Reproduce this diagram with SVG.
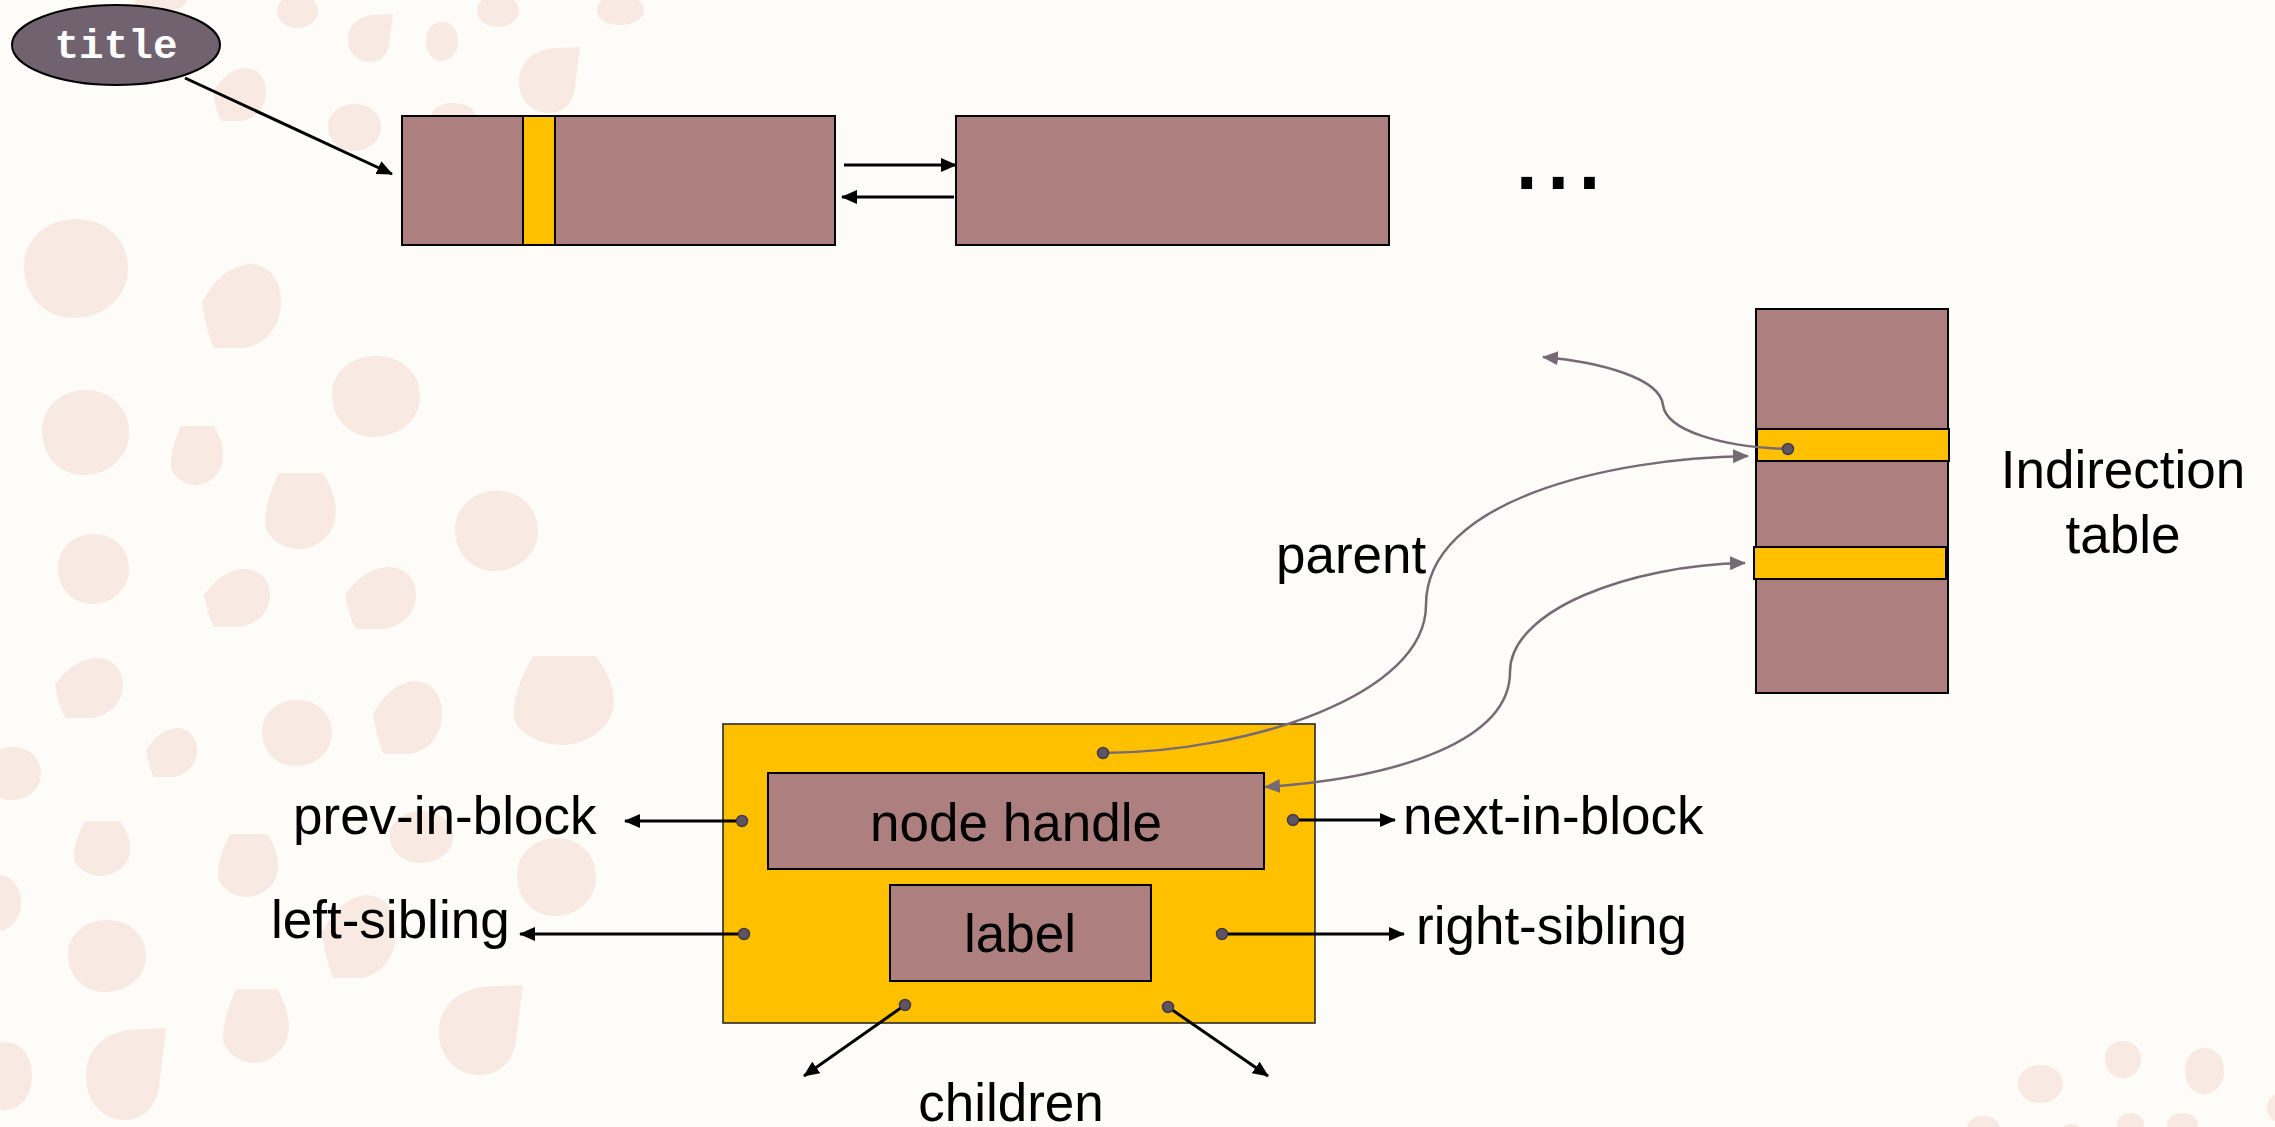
<svg xmlns="http://www.w3.org/2000/svg" xmlns:xlink="http://www.w3.org/1999/xlink" width="2275" height="1127" viewBox="0 0 2275 1127">
  <style>
    .bg { fill: #fdfcf8; }
    .blob { fill: #f8e9e2; }
    .cell { fill: #ad7f7f; stroke: #000; stroke-width: 2; }
    .slot { fill: #ffc000; stroke: #000; stroke-width: 2; }
    .box { fill: #ffc000; stroke: #2a2a2a; stroke-width: 1.6; }
    .dot { fill: #5e5462; stroke: #463c48; stroke-width: 1.5; }
    .lbl { font-family: "Liberation Sans", Arial, sans-serif; font-size: 53px; fill: #000; }
    .mid { text-anchor: middle; }
    .arrow { stroke: #000; stroke-width: 3; fill: none; marker-end: url(#ah); }
    .link { stroke: #766a75; stroke-width: 2.5; fill: none; }
  </style>
  <defs>
    <marker id="ah" viewBox="0 0 16 14" refX="15" refY="7" markerWidth="16" markerHeight="14" markerUnits="userSpaceOnUse" orient="auto">
      <path d="M0,0 L16,7 L0,14 Z" fill="#000"/>
    </marker>
    <marker id="gh" viewBox="0 0 16 14" refX="15" refY="7" markerWidth="16" markerHeight="14" markerUnits="userSpaceOnUse" orient="auto-start-reverse">
      <path d="M0,0 L16,7 L0,14 Z" fill="#766a75"/>
    </marker>
    <!-- background blob shapes, drawn in a 100x100 box -->
    <path id="bA" d="M50,0 C80,0 100,22 100,50 C100,80 75,100 48,100 C20,100 0,78 0,48 C0,20 22,0 50,0Z"/>
    <path id="bB" d="M100,0 L92,60 C88,88 70,100 48,100 C20,100 0,80 0,52 C0,22 25,5 55,2 Z"/>
    <path id="bC" d="M20,0 L80,0 C95,25 100,45 95,65 C88,88 65,100 48,100 C25,100 5,85 2,70 C0,50 8,25 20,0Z"/>
    <path id="bD" d="M0,45 C15,20 35,2 60,0 C85,0 100,20 100,45 C100,75 80,95 55,100 L15,100 C8,85 3,65 0,45Z"/>
  </defs>

  <rect class="bg" x="0" y="0" width="2275" height="1127"/>

  <!-- decorative background -->
  <g class="blob">
    <use xlink:href="#bA" transform="translate(135,-10) scale(0.51,0.22)"/>
    <use xlink:href="#bA" transform="translate(277,-5) scale(0.41,0.33)"/>
    <use xlink:href="#bB" transform="translate(348,14) scale(0.45,0.48)"/>
    <use xlink:href="#bA" transform="translate(426,22) scale(0.32,0.39)"/>
    <use xlink:href="#bA" transform="translate(477,-5) scale(0.42,0.32)"/>
    <use xlink:href="#bB" transform="translate(519,47) scale(0.61,0.66)"/>
    <use xlink:href="#bD" transform="translate(213,68) scale(0.53,0.53)"/>
    <use xlink:href="#bA" transform="translate(328,104) scale(0.53,0.47)"/>
    <use xlink:href="#bA" transform="translate(431,103) scale(0.45,0.3)"/>
    <use xlink:href="#bA" transform="translate(597,-5) scale(0.47,0.3)"/>
    <use xlink:href="#bA" transform="translate(24,219) scale(1.04,0.99)"/>
    <use xlink:href="#bD" transform="translate(202,264) scale(0.79,0.84)"/>
    <use xlink:href="#bA" transform="translate(42,390) scale(0.87,0.85)"/>
    <use xlink:href="#bC" transform="translate(170,426) scale(0.55,0.59)"/>
    <use xlink:href="#bA" transform="translate(332,356) scale(0.88,0.81)"/>
    <use xlink:href="#bC" transform="translate(264,473) scale(0.74,0.76)"/>
    <use xlink:href="#bA" transform="translate(455,491) scale(0.83,0.8)"/>
    <use xlink:href="#bA" transform="translate(58,534) scale(0.71,0.7)"/>
    <use xlink:href="#bD" transform="translate(204,569) scale(0.66,0.58)"/>
    <use xlink:href="#bD" transform="translate(345,567) scale(0.71,0.62)"/>
    <use xlink:href="#bD" transform="translate(55,658) scale(0.68,0.6)"/>
    <use xlink:href="#bC" transform="translate(512,656) scale(1.05,0.89)"/>
    <use xlink:href="#bA" transform="translate(262,700) scale(0.7,0.66)"/>
    <use xlink:href="#bD" transform="translate(373,681) scale(0.69,0.73)"/>
    <use xlink:href="#bA" transform="translate(-15,747) scale(0.56,0.53)"/>
    <use xlink:href="#bD" transform="translate(146,728) scale(0.51,0.49)"/>
    <use xlink:href="#bC" transform="translate(73,821) scale(0.59,0.55)"/>
    <use xlink:href="#bC" transform="translate(217,834) scale(0.63,0.63)"/>
    <use xlink:href="#bA" transform="translate(390,811) scale(0.63,0.52)"/>
    <use xlink:href="#bA" transform="translate(517,838) scale(0.79,0.78)"/>
    <use xlink:href="#bA" transform="translate(-25,875) scale(0.46,0.56)"/>
    <use xlink:href="#bA" transform="translate(68,920) scale(0.78,0.72)"/>
    <use xlink:href="#bD" transform="translate(322,895) scale(0.74,0.83)"/>
    <use xlink:href="#bC" transform="translate(222,989) scale(0.69,0.74)"/>
    <use xlink:href="#bB" transform="translate(439,985) scale(0.84,0.9)"/>
    <use xlink:href="#bA" transform="translate(-20,1042) scale(0.52,0.68)"/>
    <use xlink:href="#bB" transform="translate(86,1028) scale(0.8,0.92)"/>
    <use xlink:href="#bA" transform="translate(2018,1065) scale(0.45,0.38)"/>
    <use xlink:href="#bA" transform="translate(2105,1041) scale(0.36,0.37)"/>
    <use xlink:href="#bA" transform="translate(2185,1048) scale(0.39,0.46)"/>
    <use xlink:href="#bA" transform="translate(2267,1093) scale(0.3,0.3)"/>
    <use xlink:href="#bA" transform="translate(1967,1116) scale(0.33,0.25)"/>
    <use xlink:href="#bA" transform="translate(2063,1124) scale(0.17,0.1)"/>
    <use xlink:href="#bA" transform="translate(2117,1113) scale(0.27,0.25)"/>
    <use xlink:href="#bA" transform="translate(2167,1113) scale(0.31,0.25)"/>
  </g>

  <!-- block list along the top -->
  <g id="title">
    <ellipse cx="116" cy="45" rx="104" ry="40" fill="#716270" stroke="#000" stroke-width="2"/>
    <text x="116" y="58" text-anchor="middle" font-family="'Liberation Mono', 'Courier New', monospace" font-weight="bold" font-size="41" fill="#fff">title</text>
  </g>
  <g id="block1">
    <rect class="cell" x="402" y="116" width="433" height="129"/>
    <rect class="slot" x="523" y="116" width="32" height="129"/>
  </g>
  <g id="block2">
    <rect class="cell" x="956" y="116" width="433" height="129"/>
  </g>
  <g id="more">
    <text x="1511" y="189" font-family="'Liberation Sans', Arial, sans-serif" font-size="113" fill="#000">...</text>
  </g>

  <!-- indirection table -->
  <g id="table">
    <rect class="cell" x="1756" y="309" width="192" height="384"/>
    <rect class="slot" x="1757" y="429" width="192" height="32"/>
    <rect class="slot" x="1754" y="547" width="192" height="32"/>
    <text class="lbl mid" x="2123" y="488">Indirection</text>
    <text class="lbl mid" x="2123" y="553">table</text>
  </g>

  <!-- tree node record -->
  <g id="node">
    <rect class="box" x="723" y="724" width="592" height="299"/>
    <rect class="cell" x="768" y="773" width="496" height="96"/>
    <text class="lbl mid" x="1016" y="841">node handle</text>
    <rect class="cell" x="890" y="885" width="261" height="96"/>
    <text class="lbl mid" x="1020" y="952">label</text>
  </g>

  <g id="labels">
    <text class="lbl" x="1276" y="573">parent</text>
    <text class="lbl" x="293" y="834">prev-in-block</text>
    <text class="lbl" x="271" y="938">left-sibling</text>
    <text class="lbl" x="1403" y="834">next-in-block</text>
    <text class="lbl" x="1416" y="944">right-sibling</text>
    <text class="lbl mid" x="1011" y="1121">children</text>
  </g>

  <!-- connectors -->
  <g id="connectors">
    <path class="arrow" d="M185,78 L392,174"/>
    <path class="arrow" d="M844,165 L956,165"/>
    <path class="arrow" d="M954,197 L842,197"/>
    <path class="arrow" d="M742,821 L625,821"/>
    <path class="arrow" d="M744,934 L520,934"/>
    <path class="arrow" d="M1293,820 L1395,820"/>
    <path class="arrow" d="M1222,934 L1404,934"/>
    <path class="arrow" d="M905,1005 L804,1076"/>
    <path class="arrow" d="M1168,1007 L1268,1076"/>
    <path class="link" marker-end="url(#gh)" d="M1788,449 C1720,447 1666,430 1663,405 C1660,378 1600,362 1543,357"/>
    <path class="link" marker-end="url(#gh)" d="M1103,753 C1250,752 1426,695 1426,605 C1426,500 1610,458 1748,456"/>
    <path class="link" marker-start="url(#gh)" marker-end="url(#gh)" d="M1265,787 C1400,778 1510,740 1510,672 C1510,610 1630,565 1745,563"/>
    <circle class="dot" cx="1788" cy="449" r="5.5"/>
    <circle class="dot" cx="1103" cy="753" r="5.5"/>
    <circle class="dot" cx="742" cy="821" r="5.5"/>
    <circle class="dot" cx="1293" cy="820" r="5.5"/>
    <circle class="dot" cx="744" cy="934" r="5.5"/>
    <circle class="dot" cx="1222" cy="934" r="5.5"/>
    <circle class="dot" cx="905" cy="1005" r="5.5"/>
    <circle class="dot" cx="1168" cy="1007" r="5.5"/>
  </g>
</svg>
